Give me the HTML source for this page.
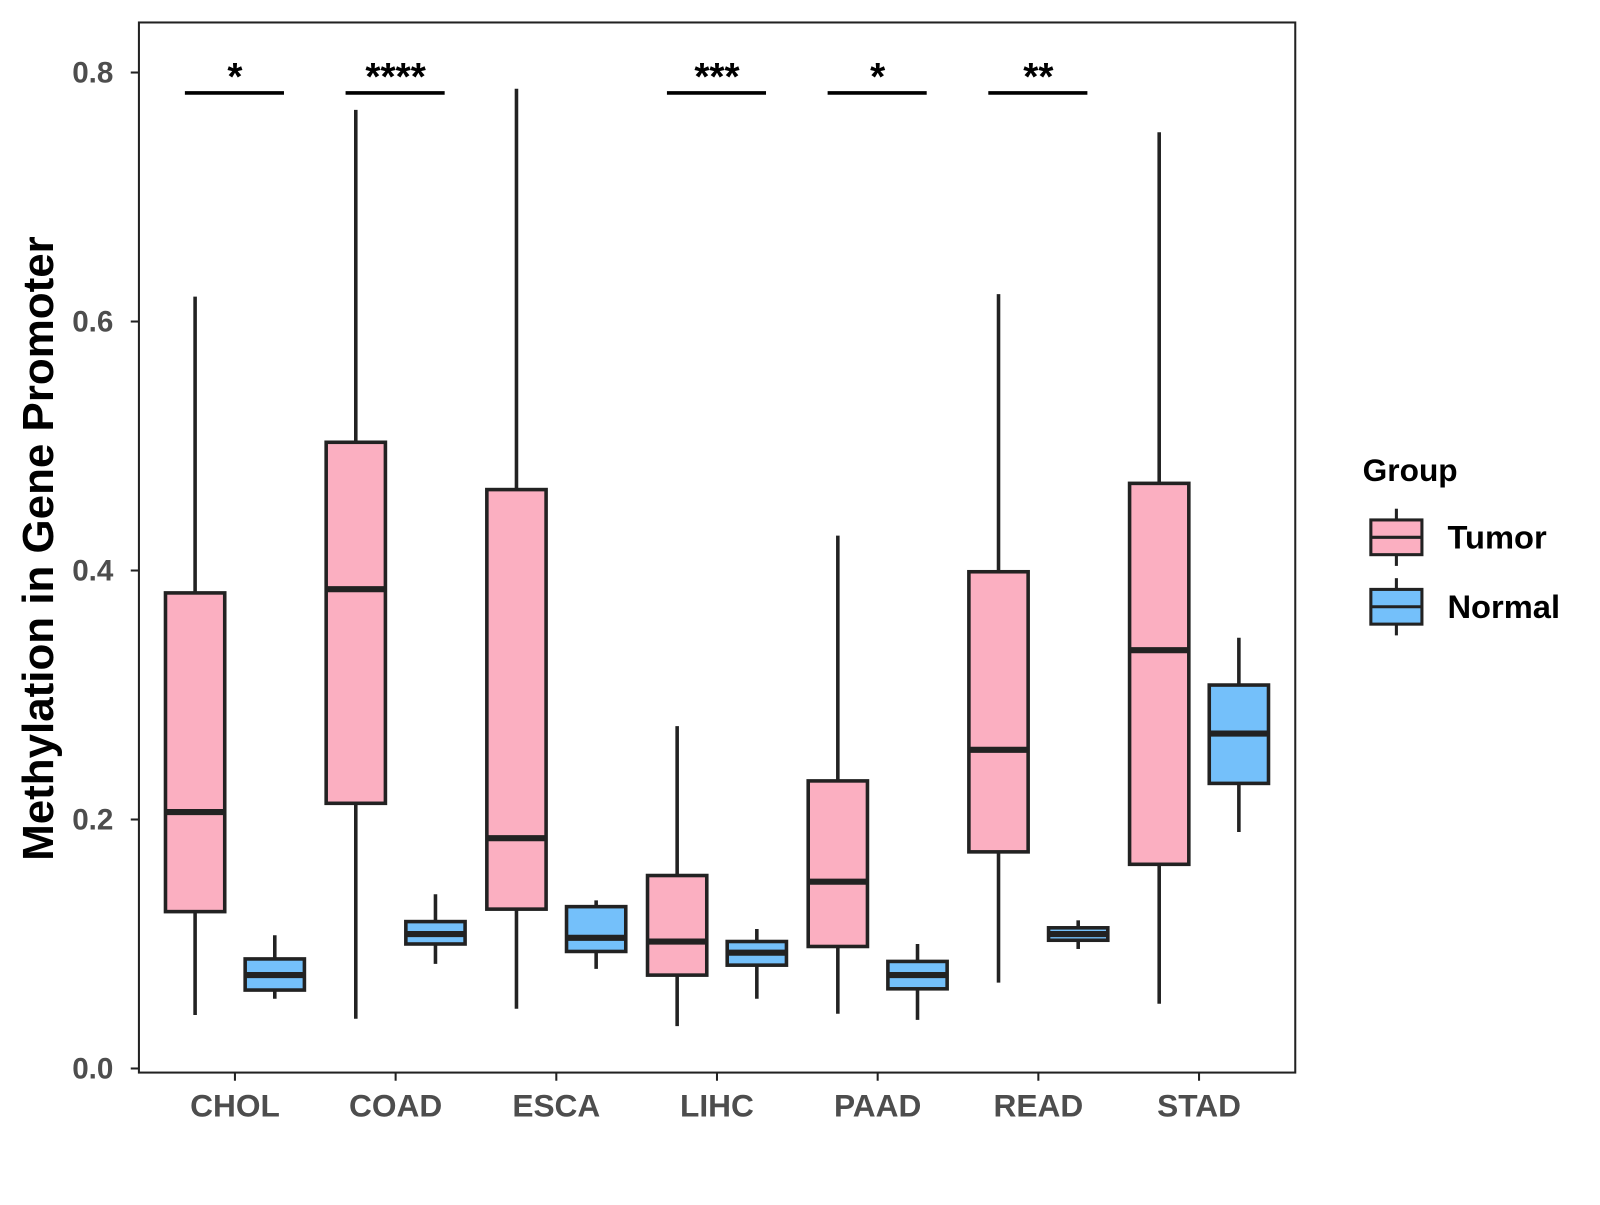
<!DOCTYPE html>
<html><head><meta charset="utf-8"><style>
body{margin:0;background:#fff}
svg text{font-family:"Liberation Sans",Arial,sans-serif;font-weight:bold}
</style></head><body>
<svg id="chart" width="1600" height="1200" viewBox="0 0 1600 1200" xmlns="http://www.w3.org/2000/svg">
<rect x="0" y="0" width="1600" height="1200" fill="#fff"/>
<g transform="scale(1.0215)">
<rect x="136" y="22" width="1132" height="1028" fill="#fff" stroke="#222" stroke-width="2"/>
<g id="yaxis"></g>
<g id="xaxis"></g>
<g id="boxes"></g>
<g id="sig"></g>
<text transform="translate(52,537) rotate(-90)" text-anchor="middle" font-size="43" fill="#000">Methylation in Gene Promoter</text>
<g>
<text x="1334" y="471" font-size="31" fill="#000">Group</text>
<g>
<line x1="1367" y1="498" x2="1367" y2="554" stroke="#222" stroke-width="3"/>
<rect x="1342" y="509" width="50" height="34" fill="#FBAFC1" stroke="#222" stroke-width="3"/>
<line x1="1342" y1="526" x2="1392" y2="526" stroke="#222" stroke-width="3"/>
<text x="1417" y="537" font-size="32" fill="#000">Tumor</text></g>
<g>
<line x1="1367" y1="566" x2="1367" y2="622" stroke="#222" stroke-width="3"/>
<rect x="1342" y="577" width="50" height="34" fill="#74C0FA" stroke="#222" stroke-width="3"/>
<line x1="1342" y1="594" x2="1392" y2="594" stroke="#222" stroke-width="3"/>
<text x="1417" y="605" font-size="32" fill="#000">Normal</text></g>
</g>
</g>
</svg>
<script>
const categories=["CHOL","COAD","ESCA","LIHC","PAAD","READ","STAD"];
const tumorLow=[0.043,0.040,0.048,0.034,0.044,0.069,0.052];
const tumorQ1=[0.126,0.213,0.128,0.075,0.098,0.174,0.164];
const tumorMed=[0.206,0.385,0.185,0.102,0.150,0.256,0.336];
const tumorQ3=[0.382,0.503,0.465,0.155,0.231,0.399,0.470];
const tumorHigh=[0.620,0.770,0.787,0.275,0.428,0.622,0.752];
const normalLow=[0.056,0.084,0.080,0.056,0.039,0.096,0.190];
const normalQ1=[0.063,0.100,0.094,0.083,0.064,0.103,0.229];
const normalMed=[0.075,0.108,0.105,0.093,0.075,0.108,0.269];
const normalQ3=[0.088,0.118,0.130,0.102,0.086,0.113,0.308];
const normalHigh=[0.107,0.140,0.135,0.112,0.100,0.119,0.346];
const sigLabels=["*","****","","***","*","**",""];
const yTicks=[0,0.2,0.4,0.6,0.8];
const yTickLabels=["0.0","0.2","0.4","0.6","0.8"];
const NS="http://www.w3.org/2000/svg";
function y(v){return 1046-v*1218.75;}
function x(i){return 230+i*157.3;}
function mk(tag,attrs,parent){const e=document.createElementNS(NS,tag);for(const k in attrs)e.setAttribute(k,attrs[k]);parent.appendChild(e);return e;}
const ya=document.getElementById('yaxis'),xa=document.getElementById('xaxis'),bx=document.getElementById('boxes'),sg=document.getElementById('sig');
yTicks.forEach((t,i)=>{
  const l=mk('line',{x1:128,x2:136,y1:y(t),y2:y(t),stroke:'#222','stroke-width':2},ya);
  
  
  const tx=mk('text',{x:111,y:y(t)+10,'text-anchor':'end','font-size':29,fill:'#4d4d4d'},ya);
  tx.textContent=yTickLabels[i];
  
  
});
function box(cx,lo,q1,md,q3,hi,fill,name){
  const g=mk('g',{},bx);
  
  
  mk('line',{x1:cx,x2:cx,y1:y(hi),y2:y(lo),stroke:'#222','stroke-width':3.5},g);
  mk('rect',{x:cx-29,y:y(q3),width:58,height:y(q1)-y(q3),fill:fill,stroke:'#222','stroke-width':3.5},g);
  mk('line',{x1:cx-29,x2:cx+29,y1:y(md),y2:y(md),stroke:'#222','stroke-width':6},g);
}
categories.forEach((c,i)=>{
  const cx=x(i);
  const l=mk('line',{x1:cx,x2:cx,y1:1050,y2:1058,stroke:'#222','stroke-width':2},xa);
  
  
  const tx=mk('text',{x:cx,y:1093,'text-anchor':'middle','font-size':31,fill:'#4d4d4d'},xa);
  tx.textContent=c;
  
  
  box(cx-39,tumorLow[i],tumorQ1[i],tumorMed[i],tumorQ3[i],tumorHigh[i],'#FBAFC1','tumor-box-'+c.toLowerCase());
  box(cx+39,normalLow[i],normalQ1[i],normalMed[i],normalQ3[i],normalHigh[i],'#74C0FA','normal-box-'+c.toLowerCase());
  if(sigLabels[i]){
    const g=mk('g',{},sg);
    
    
    mk('line',{x1:cx-49,x2:cx+48,y1:91,y2:91,stroke:'#000','stroke-width':3.5},g);
    const t=mk('text',{x:cx,y:88,'text-anchor':'middle','font-size':38,fill:'#000'},g);
    t.textContent=sigLabels[i];
  }
});
</script>
</body></html>
